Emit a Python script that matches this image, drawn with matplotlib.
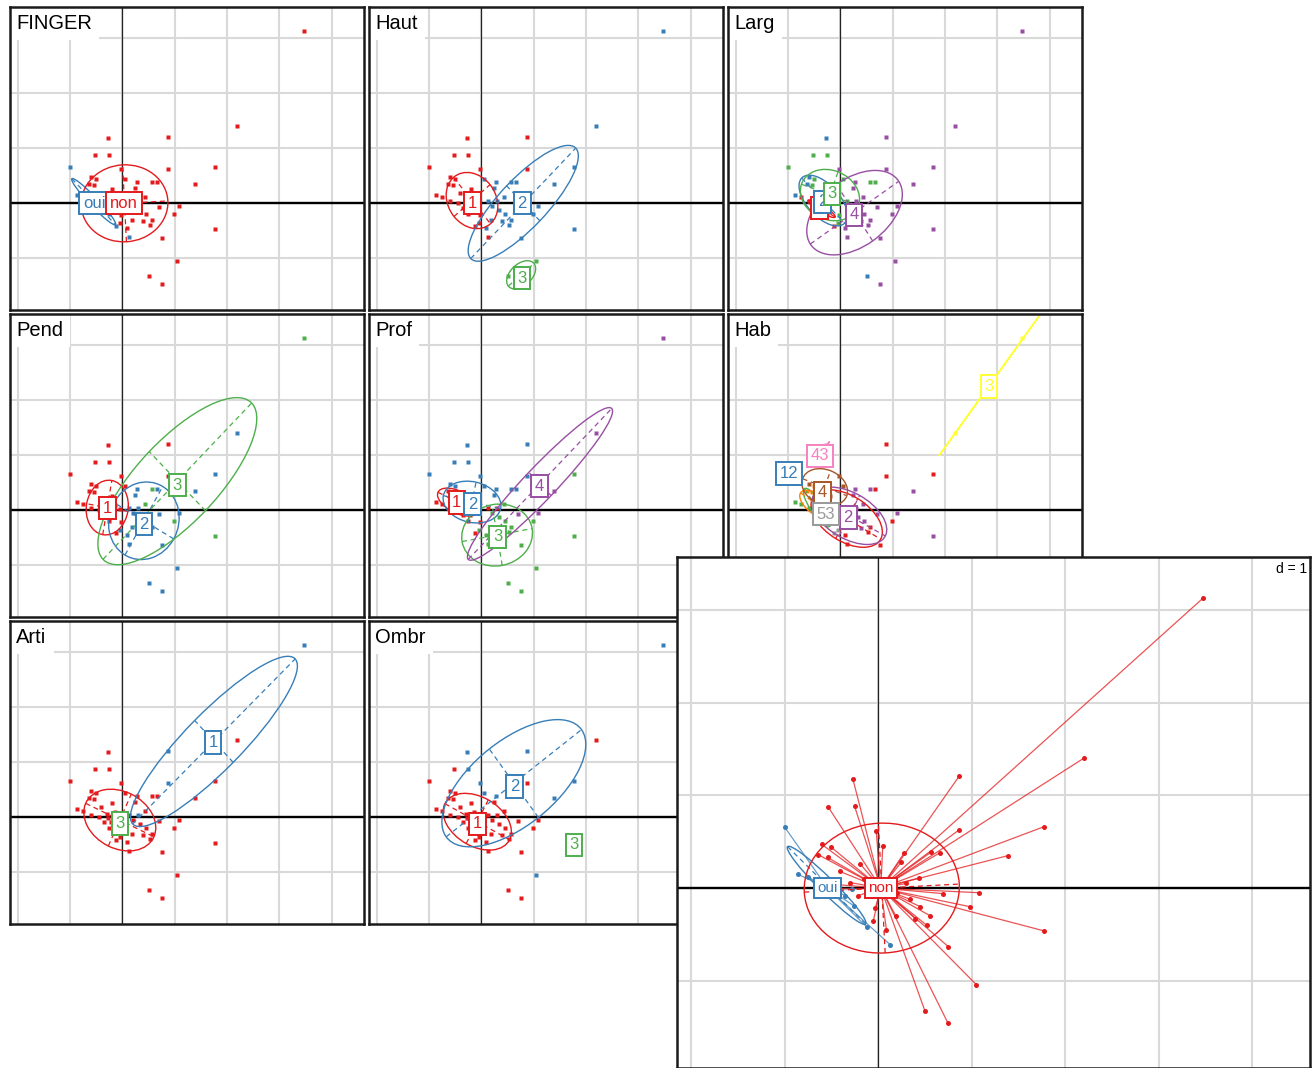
import numpy as np
import matplotlib
matplotlib.use("Agg")
import matplotlib.pyplot as plt
from matplotlib.patches import Ellipse

plt.rcParams["font.family"] = ["Liberation Sans", "DejaVu Sans"]

# row scores on the first two axes (shared by every panel)
pts_x = [3.48, 2.20, 0.87, -0.27, -0.53, -0.25, 1.77, 0.87, 1.39, 1.08,
         0.98, 1.77, 0.75, 1.05, 0.50, 0.75, -1.00, -0.02, -0.60, -0.50,
         -0.64, -0.54, 0.66, 0.57, 0.28, 0.25, 0.44, -0.19, -0.41, 0.56,
         0.09, -0.03, 0.19, 0.52, 0.40, 0.70, 0.34, -0.21, -0.30, -0.86,
         -0.75, -0.35, -0.26, -0.12, 0.13, -0.28, 0.05, -0.05, 0.12, -0.45,
         0.20, -0.15, 0.30, -0.60, 0.45, -0.05]
pts_y = [3.13, 1.40, 1.21, 1.18, 0.87, 0.88, 0.66, 0.63, 0.35, -0.05,
         -0.20, -0.46, -0.63, -1.04, -1.32, -1.46, 0.66, 0.62, 0.47, 0.44,
         0.36, 0.33, 0.38, 0.39, 0.38, 0.28, 0.11, 0.26, 0.18, -0.30,
         -0.45, -0.22, -0.30, -0.40, -0.33, -0.06, -0.12, -0.08, 0.06, 0.15,
         0.12, -0.08, -0.19, -0.42, -0.61, -0.01, 0.45, 0.02, 0.05, 0.00,
         -0.05, 0.10, 0.05, 0.05, -0.20, -0.35]

RED, BLUE, GREEN, PURPLE = "#E41A1C", "#377EB8", "#4DAF4A", "#984EA3"
ORANGE, YELLOW, BROWN, PINK, GREY = "#FF7F00", "#FFFF33", "#A65628", "#F781BF", "#999999"

# --- FINGER
finger_members = {"oui": [16, 39, 40, 41, 42, 43, 44, 45]}
finger_colors = {"oui": BLUE, "non": RED}
finger_ellipses = [("oui", -0.55, 0.03, 0.59, 0.08, -45),
                   ("non", 0.04, 0.0, 0.83, 0.70, 3)]
finger_labels = [("oui", -0.54, 0.0), ("non", 0.03, 0.0)]

# --- Haut
haut_members = {"2": [0, 1, 6, 8, 9, 10, 11, 12, 22, 23, 24, 25, 26, 29, 30, 32,
                      33, 34, 35, 36, 46, 48, 50, 52, 54],
                "3": [13, 14, 15]}
haut_colors = {"1": RED, "2": BLUE, "3": GREEN}
haut_ellipses = [("1", -0.18, 0.05, 0.55, 0.45, -50),
                 ("2", 0.80, 0.0, 1.42, 0.45, 45),
                 ("3", 0.76, -1.30, 0.32, 0.2, 40)]
haut_labels = [("1", -0.17, 0.0), ("2", 0.78, 0.0), ("3", 0.78, -1.36)]

# --- Larg
larg_members = {"4": [0, 1, 2, 6, 7, 8, 9, 10, 11, 12, 13, 15, 17, 24, 25, 26, 29,
                      30, 32, 33, 34, 35, 36, 44, 50, 52, 54],
                "2": [3, 14, 39, 18, 20, 28, 45, 41],
                "3": [4, 5, 16, 22, 23, 19, 21, 27, 46, 47, 51, 31, 48, 55]}
larg_colors = {"1": RED, "2": BLUE, "3": GREEN, "4": PURPLE}
larg_ellipses = [("1", -0.36, -0.10, 0.30, 0.06, -30),
                 ("2", -0.33, 0.05, 0.58, 0.30, -45),
                 ("3", -0.20, 0.15, 0.58, 0.45, -20),
                 ("4", 0.27, -0.17, 1.02, 0.62, 34)]
larg_labels = [("1", -0.40, -0.09), ("2", -0.34, 0.03), ("3", -0.16, 0.17),
               ("4", 0.26, -0.21)]

# --- Pend
pend_members = {"3": [0, 10, 11, 23, 26],
                "2": [1, 6, 8, 9, 12, 13, 14, 15, 22, 24, 25, 29, 30, 32, 33, 34,
                      35, 36, 44, 48, 50, 52, 54, 55]}
pend_colors = {"1": RED, "2": BLUE, "3": GREEN}
pend_ellipses = [("1", -0.29, 0.05, 0.50, 0.40, 80),
                 ("2", 0.41, -0.19, 0.72, 0.66, 60),
                 ("3", 1.05, 0.53, 2.01, 0.76, 45)]
pend_labels = [("1", -0.29, 0.04), ("2", 0.41, -0.25), ("3", 1.05, 0.46)]

# --- Prof
prof_members = {"4": [0, 1, 8, 9, 35],
                "2": [2, 3, 4, 5, 7, 16, 17, 18, 19, 22, 23, 24, 25, 27, 28, 38, 46],
                "3": [6, 10, 11, 12, 13, 14, 15, 26, 29, 30, 32, 33, 34, 36, 44,
                      50, 54, 55]}
prof_colors = {"1": RED, "2": BLUE, "3": GREEN, "4": PURPLE}
prof_ellipses = [("1", -0.45, 0.15, 0.42, 0.20, -25),
                 ("2", -0.18, 0.15, 0.56, 0.37, -12),
                 ("3", 0.30, -0.45, 0.68, 0.56, 10),
                 ("4", 1.12, 0.48, 1.94, 0.30, 45)]
prof_labels = [("1", -0.47, 0.14), ("2", -0.17, 0.11), ("3", 0.31, -0.48),
               ("4", 1.11, 0.44)]

# --- Hab
hab_members = {"3": [0, 1], "12": [16], "43": [3, 4],
               "4": [5, 17, 18, 27, 46],
               "2": [8, 9, 11, 23, 24, 25, 26, 34, 35, 36, 50, 52, 54],
               "o": [19, 20, 21, 28, 38, 49],
               "g": [39, 40, 41, 42, 53],
               "53": [31, 37, 43, 45, 47, 48, 51, 55]}
hab_colors = {"1": RED, "12": BLUE, "g": GREEN, "2": PURPLE, "o": ORANGE,
              "3": YELLOW, "4": BROWN, "43": PINK, "53": GREY}
hab_ellipses = [("1", 0.12, -0.15, 0.75, 0.42, -30),
                ("g", -0.45, 0.05, 0.42, 0.12, -55),
                ("2", 0.17, -0.10, 0.78, 0.42, -28),
                ("o", -0.45, 0.10, 0.38, 0.18, -35),
                ("3", 2.84, 2.26, 1.59, 0.005, 53),
                ("4", -0.30, 0.42, 0.45, 0.32, -20),
                ("43", -0.40, 1.02, 0.30, 0.005, 50),
                ("53", -0.25, -0.05, 0.30, 0.15, -30)]
hab_labels = [("12", -0.99, 0.67), ("2", 0.15, -0.13), ("3", 2.84, 2.25),
              ("4", -0.34, 0.32), ("43", -0.39, 0.99), ("53", -0.28, -0.07)]

# --- Arti
arti_members = {"1": [0, 2, 7, 52], "3": [47]}
arti_colors = {"0": RED, "1": BLUE, "3": GREEN}
arti_ellipses = [("0", -0.05, -0.05, 0.72, 0.52, -25),
                 ("1", 1.75, 1.38, 2.16, 0.53, 44)]
arti_labels = [("1", 1.73, 1.36), ("3", -0.05, -0.11)]

# --- Ombr
ombr_members = {"2": [0, 2, 3, 5, 6, 8, 13, 17, 22, 24, 46], "3": [11]}
ombr_colors = {"1": RED, "2": BLUE, "3": GREEN}
ombr_ellipses = [("1", -0.08, -0.08, 0.70, 0.45, -28),
                 ("2", 0.62, 0.62, 1.62, 0.78, 37)]
ombr_labels = [("1", -0.08, -0.12), ("2", 0.63, 0.56), ("3", 1.77, -0.50)]

XLIM = (-2.15, 4.62)
YLIM = (-1.94, 3.57)
GRID_X = [-2, -1, 0, 1, 2, 3, 4]
GRID_Y = [-1, 0, 1, 2, 3]

px = np.array(pts_x)
py = np.array(pts_y)


def draw_panel(ax, title, default, members, colors, ellipses, labels,
               stars=False, marker="s", msize=2.6, lab_size=12):
    ax.set_xlim(XLIM)
    ax.set_ylim(YLIM)
    ax.set_xticks(GRID_X)
    ax.set_yticks(GRID_Y)
    ax.grid(True, color="#d9d9d9", lw=1.5)
    ax.set_axisbelow(True)
    ax.tick_params(length=0, labelbottom=False, labelleft=False)
    ax.axhline(0, color="black", lw=1.7, zorder=1)
    ax.axvline(0, color="#222222", lw=0.9, zorder=1)

    grp = np.array([default] * len(px), dtype=object)
    for g, idx in members.items():
        grp[idx] = g

    if stars:
        centre = {g: (x, y) for g, x, y in labels}
        for i in range(len(px)):
            cx, cy = centre[grp[i]]
            ax.plot([cx, px[i]], [cy, py[i]], color=colors[grp[i]], lw=0.9,
                    alpha=0.75, zorder=2)

    for g, col in colors.items():
        sel = grp == g
        ax.plot(px[sel], py[sel], marker, ls="none", ms=msize, color=col,
                mec="none", zorder=3)

    for g, cx, cy, a, b, ang in ellipses:
        col = colors[g]
        ax.add_patch(Ellipse((cx, cy), 2 * a, 2 * b, angle=ang, fill=False,
                             ec=col, lw=1.0, zorder=4))
        t = np.deg2rad(ang)
        c, s = np.cos(t), np.sin(t)
        ax.plot([cx - a * c, cx + a * c], [cy - a * s, cy + a * s], color=col,
                lw=0.9, ls=(0, (4, 3)), zorder=4)
        if b > 0.05:
            ax.plot([cx + b * s, cx - b * s], [cy - b * c, cy + b * c], color=col,
                    lw=0.9, ls=(0, (4, 3)), zorder=4)

    for g, lx, ly in labels:
        ax.text(lx, ly, g, color=colors[g], ha="center", va="center",
                fontsize=lab_size, zorder=6,
                bbox=dict(boxstyle="square,pad=0.22", fc="white", ec=colors[g], lw=1.4))

    if title:
        ax.text(0.018, 0.978, title, transform=ax.transAxes, ha="left", va="top",
                fontsize=14.5, zorder=7,
                bbox=dict(boxstyle="square,pad=0.35", fc="white", ec="none"))
    for sp in ax.spines.values():
        sp.set_linewidth(1.8)
        sp.set_color("#1a1a1a")
        sp.set_zorder(8)


W, H = 1316, 1068
fig = plt.figure(figsize=(W / 100, H / 100), dpi=100)


def add_axes(x, y, w, h):
    return fig.add_axes([x / W, 1 - (y + h) / H, w / W, h / H])


cols_x = [10, 369, 728]
rows_y = [7, 314, 621]
pw, ph = 354, 303

panels = [
    ("FINGER", "non", finger_members, finger_colors, finger_ellipses, finger_labels),
    ("Haut", "1", haut_members, haut_colors, haut_ellipses, haut_labels),
    ("Larg", "1", larg_members, larg_colors, larg_ellipses, larg_labels),
    ("Pend", "1", pend_members, pend_colors, pend_ellipses, pend_labels),
    ("Prof", "1", prof_members, prof_colors, prof_ellipses, prof_labels),
    ("Hab", "1", hab_members, hab_colors, hab_ellipses, hab_labels),
    ("Arti", "0", arti_members, arti_colors, arti_ellipses, arti_labels),
    ("Ombr", "1", ombr_members, ombr_colors, ombr_ellipses, ombr_labels),
]

for k, spec in enumerate(panels):
    r, c = divmod(k, 3)
    ax = add_axes(cols_x[c], rows_y[r], pw, ph)
    draw_panel(ax, *spec)

# enlarged FINGER panel with stars
big = add_axes(677, 557, 633, 511)
big.set_facecolor("white")
draw_panel(big, None, "non", finger_members, finger_colors, finger_ellipses,
           finger_labels, stars=True, marker="o", msize=3.6, lab_size=11)
big.text(0.995, 0.99, "d = 1", transform=big.transAxes, ha="right", va="top",
         fontsize=10, zorder=7,
         bbox=dict(boxstyle="square,pad=0.2", fc="white", ec="none"))

fig.savefig("out.png", dpi=100)
